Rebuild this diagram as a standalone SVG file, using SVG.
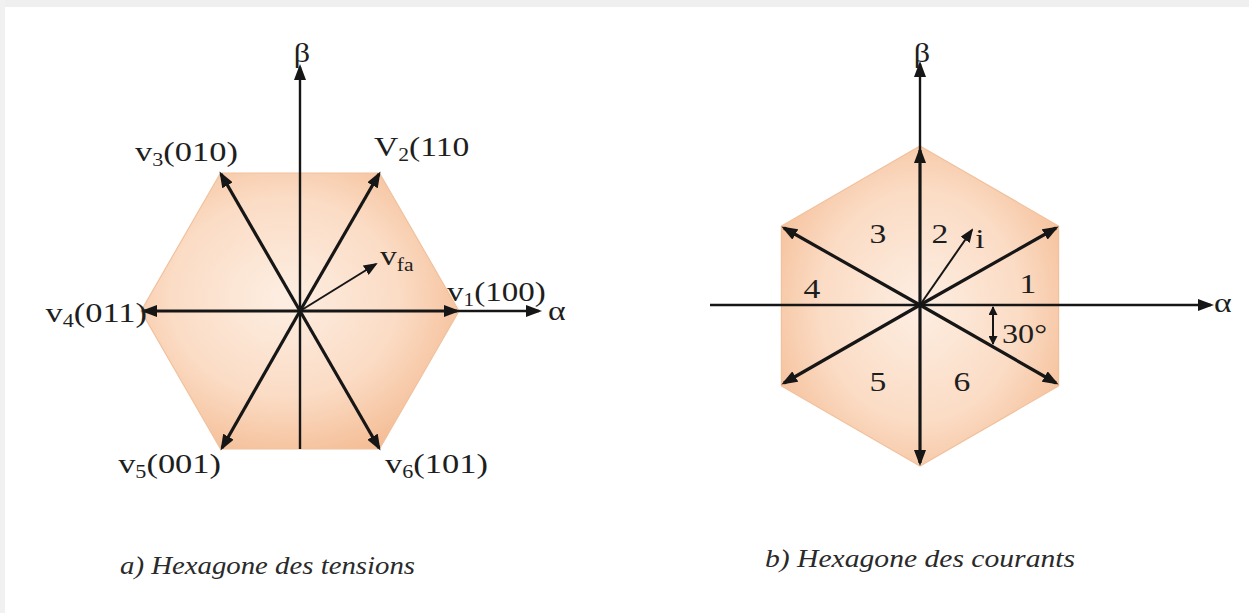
<svg xmlns="http://www.w3.org/2000/svg" width="1249" height="613" viewBox="0 0 1249 613">
<style>
.lbl{font-family:"Liberation Serif","Times New Roman",serif;fill:#1e1e1e;font-size:28px}
.cap{font-family:"Liberation Serif","Times New Roman",serif;font-style:italic;fill:#2a2a2a;font-size:25px}
.vec{stroke:#161616;stroke-width:3.2;fill:none}
.ax{stroke:#161616;stroke-width:2.4;fill:none}
.thin{stroke:#161616;stroke-width:2;fill:none}
.hex{stroke:#f1c19d;stroke-width:1.2}
</style>
<defs>
<marker id="ah" viewBox="0 0 16 12" refX="13" refY="6" markerWidth="16" markerHeight="12" markerUnits="userSpaceOnUse" orient="auto-start-reverse">
<path d="M0,0 L16,6 L0,12 z" fill="#161616"/>
</marker>
<marker id="ahs" viewBox="0 0 14 11" refX="12" refY="5.5" markerWidth="14" markerHeight="11" markerUnits="userSpaceOnUse" orient="auto-start-reverse">
<path d="M0,0 L14,5.5 L0,11 z" fill="#161616"/>
</marker>
<marker id="ahx" viewBox="0 0 9 9" refX="8" refY="4.5" markerWidth="9" markerHeight="9" markerUnits="userSpaceOnUse" orient="auto-start-reverse">
<path d="M0,0 L9,4.5 L0,9 z" fill="#161616"/>
</marker>
<radialGradient id="g1" cx="0.45" cy="0.45" r="0.65">
<stop offset="0" stop-color="#fdeee2"/>
<stop offset="0.55" stop-color="#fbdcc5"/>
<stop offset="1" stop-color="#f3b88e"/>
</radialGradient>
<radialGradient id="g2" cx="0.5" cy="0.5" r="0.65">
<stop offset="0" stop-color="#fdeee2"/>
<stop offset="0.55" stop-color="#fbdcc5"/>
<stop offset="1" stop-color="#f3b88e"/>
</radialGradient>
</defs>
<rect width="1249" height="613" fill="#ffffff"/>
<rect x="0" y="0" width="1249" height="7" fill="#efefef"/>
<rect x="0" y="0" width="5" height="613" fill="#f1f1f1"/>

<g id="hexA">
<polygon class="hex" points="459,311 379.5,173 220.5,173 141,311 220.5,449 379.5,449" fill="url(#g1)"/>
</g>
<g id="hexB">
<polygon class="hex" points="920,146 1058.6,226 1058.6,386 920,466 781.4,386 781.4,226" fill="url(#g2)"/>
</g>

<g id="connectors">
<line class="ax" x1="300" y1="449" x2="300" y2="67" marker-end="url(#ah)"/>
<line class="vec" x1="300" y1="311" x2="457" y2="311" marker-end="url(#ah)"/>
<line class="vec" x1="300" y1="311" x2="144" y2="311" marker-end="url(#ah)"/>
<line class="ax" x1="457" y1="311" x2="539" y2="311" marker-end="url(#ah)"/>
<line class="vec" x1="300" y1="311" x2="379" y2="174" marker-end="url(#ah)"/>
<line class="vec" x1="300" y1="311" x2="221" y2="174" marker-end="url(#ah)"/>
<line class="vec" x1="300" y1="311" x2="222" y2="448" marker-end="url(#ah)"/>
<line class="vec" x1="300" y1="311" x2="379" y2="448" marker-end="url(#ah)"/>
<line class="thin" x1="300" y1="311" x2="376" y2="264" marker-end="url(#ahs)"/>
<line class="ax" x1="710" y1="305" x2="1211" y2="305" marker-end="url(#ah)"/>
<line class="ax" x1="920" y1="150" x2="920" y2="64" marker-end="url(#ah)"/>
<line class="vec" x1="920" y1="305" x2="920" y2="150" marker-end="url(#ah)"/>
<line class="vec" x1="920" y1="305" x2="920" y2="463" marker-end="url(#ah)"/>
<line class="vec" x1="920" y1="305" x2="1056" y2="228" marker-end="url(#ah)"/>
<line class="vec" x1="920" y1="305" x2="784" y2="228" marker-end="url(#ah)"/>
<line class="vec" x1="920" y1="305" x2="784" y2="383" marker-end="url(#ah)"/>
<line class="vec" x1="920" y1="305" x2="1056" y2="383" marker-end="url(#ah)"/>
<line class="thin" x1="920" y1="305" x2="972" y2="230" marker-end="url(#ahs)"/>
<line class="thin" x1="993" y1="307" x2="993" y2="344" marker-start="url(#ahx)" marker-end="url(#ahx)"/>
</g>

<g id="labelsA">
<text class="lbl" text-anchor="middle" transform="translate(302,62) scale(1.15,1)">β</text>
<text class="lbl" transform="translate(135,161) scale(1.23,1)">v<tspan font-size="18" dy="5">3</tspan><tspan dy="-5">(010)</tspan></text>
<text class="lbl" transform="translate(374,156) scale(1.2,1)">V<tspan font-size="18" dy="5">2</tspan><tspan dy="-5">(110</tspan></text>
<text class="lbl" font-size="24" transform="translate(380,265) scale(1.2,1)">v<tspan font-size="18" dy="6">fa</tspan></text>
<text class="lbl" transform="translate(447,301) scale(1.18,1)">v<tspan font-size="18" dy="5">1</tspan><tspan dy="-5">(100)</tspan></text>
<text class="lbl" transform="translate(548,320) scale(1.2,1)">α</text>
<text class="lbl" text-anchor="end" transform="translate(147,322) scale(1.23,1)">v<tspan font-size="18" dy="5">4</tspan><tspan dy="-5">(011)</tspan></text>
<text class="lbl" text-anchor="end" transform="translate(221,473) scale(1.23,1)">v<tspan font-size="18" dy="5">5</tspan><tspan dy="-5">(001)</tspan></text>
<text class="lbl" transform="translate(385,473) scale(1.23,1)">v<tspan font-size="18" dy="5">6</tspan><tspan dy="-5">(101)</tspan></text>
</g>

<g id="labelsB">
<text class="lbl" text-anchor="middle" transform="translate(922,62) scale(1.15,1)">β</text>
<text class="lbl" text-anchor="middle" transform="translate(878,243) scale(1.2,1)">3</text>
<text class="lbl" text-anchor="middle" transform="translate(940,243) scale(1.2,1)">2</text>
<text class="lbl" text-anchor="middle" transform="translate(980,248) scale(1.2,1)">i</text>
<text class="lbl" text-anchor="middle" transform="translate(1028,293) scale(1.2,1)">1</text>
<text class="lbl" text-anchor="middle" transform="translate(812,298) scale(1.2,1)">4</text>
<text class="lbl" text-anchor="middle" transform="translate(878,391) scale(1.2,1)">5</text>
<text class="lbl" text-anchor="middle" transform="translate(962,391) scale(1.2,1)">6</text>
<text class="lbl" transform="translate(1002,343) scale(1.15,1)">30°</text>
<text class="lbl" transform="translate(1214,312) scale(1.2,1)">α</text>
</g>

<g id="captions">
<text class="cap" x="120" y="574" textLength="295" lengthAdjust="spacingAndGlyphs">a) Hexagone des tensions</text>
<text class="cap" x="765" y="567" textLength="310" lengthAdjust="spacingAndGlyphs">b) Hexagone des courants</text>
</g>
</svg>
